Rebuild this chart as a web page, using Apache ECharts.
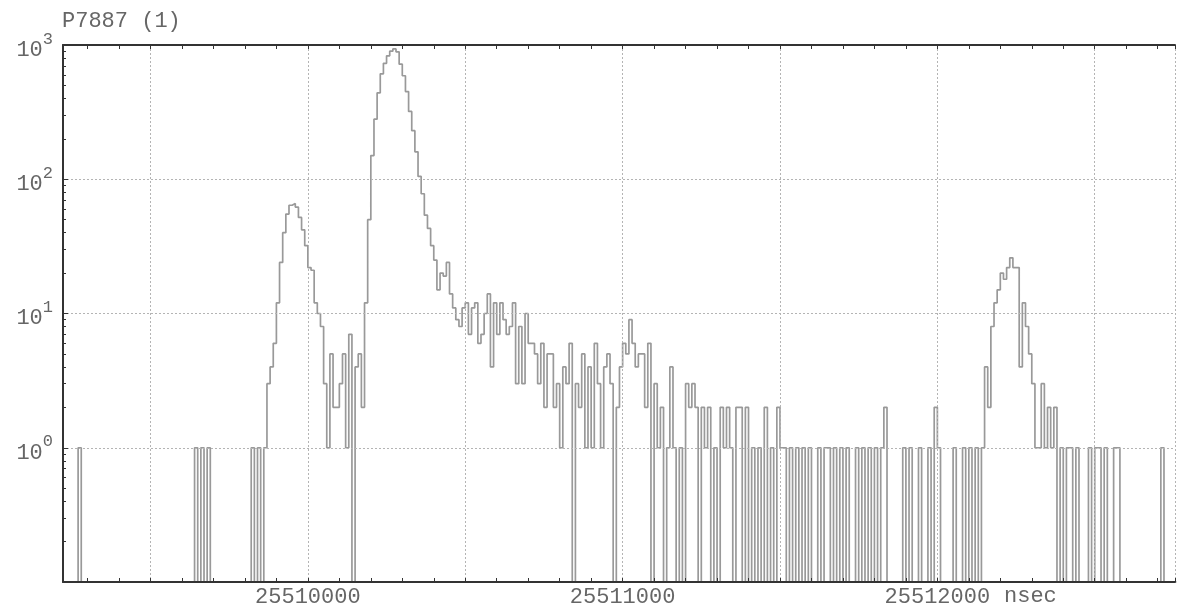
<!DOCTYPE html>
<html>
<head>
<meta charset="utf-8">
<title>P7887 (1)</title>
<script src="https://cdn.jsdelivr.net/npm/echarts@6.0.0/dist/echarts.min.js"></script>
<style>
  html, body {margin: 0; padding: 0; background: #fff;}
  #chart {width: 1178px; height: 608px;}
</style>
</head>
<body>
<div id="chart"></div>
<script>
// histogram of arrival times (nsec), 10 ns bins, log counts
const xMin = 25509222
const xMax = 25512755
const binStart = 25509220
const binWidth = 10

const xLabelTicks = [25510000, 25511000, 25512000]
const yMinorTicks = [0.2, 0.3, 0.4, 0.5, 0.6, 0.7, 0.8, 0.9,
    2, 3, 4, 5, 6, 7, 8, 9,
    20, 30, 40, 50, 60, 70, 80, 90,
    200, 300, 400, 500, 600, 700, 800, 900]

// first small peak
const peakAStart = 25509870
const peakA = [3, 4, 6, 12, 24, 40, 55, 64, 66, 62,
    52, 42, 32, 22, 21, 12, 10, 8, 3, 1,
    5, 2, 2, 3, 5, 1, 7, 0]

// main peak and its tail
const peakBStart = 25510150
const peakB = [4, 5, 2, 12, 50, 150, 280, 440, 610, 730,
    830, 900, 935, 890, 720, 590, 450, 320, 230, 160,
    105, 78, 54, 43, 32, 25, 15, 20, 19, 24,
    14, 11, 9, 8, 11, 12, 7, 11, 12, 6,
    7, 10, 14, 4, 12, 7, 12, 9, 7, 8,
    12, 3, 8, 3, 10, 6, 6, 5, 3, 6,
    2, 5, 5, 2, 3, 1, 4, 3, 6, 0,
    3, 2, 5, 1, 4, 1, 6, 3, 1, 4,
    5, 3, 0, 2, 4, 6, 5, 9, 6, 4,
    5, 5, 2, 6, 0, 3, 1, 2, 0, 1,
    4, 1, 0, 1, 0, 3, 2, 3, 2, 0,
    2, 1, 2, 0, 1, 0]

// third peak
const peakCStart = 25512150
const peakC = [4, 2, 8, 12, 15, 20, 18, 22, 26, 22,
    22, 4, 12, 8, 5, 3, 1, 1, 3, 1,
    2, 1, 2, 0]

// isolated bins in the sparse parts (bin start times)
const singleHits = [25509270, 25509640, 25509660, 25509680, 25509820, 25509840, 25509860,
    25511320, 25511340, 25511410, 25511430, 25511470, 25511500, 25511510, 25511530,
    25511550, 25511570, 25511590, 25511620, 25511640, 25511650, 25511670, 25511690,
    25511710, 25511740, 25511760, 25511780, 25511800, 25511820,
    25511890, 25511910, 25511940, 25511970, 25512000, 25512050, 25512080, 25512100,
    25512120, 25512140, 25512390, 25512410, 25512420, 25512440, 25512480, 25512500,
    25512510, 25512530, 25512560, 25512570, 25512710]
const doubleHits = [25511310, 25511330, 25511360, 25511370, 25511390, 25511450, 25511490, 25511830, 25511990]

const nBins = Math.ceil((xMax - binStart) / binWidth)
const counts = new Array(nBins).fill(0)
const put = (t, c) => { counts[Math.round((t - binStart) / binWidth)] = c }
peakA.forEach((c, i) => put(peakAStart + i * binWidth, c))
peakB.forEach((c, i) => put(peakBStart + i * binWidth, c))
peakC.forEach((c, i) => put(peakCStart + i * binWidth, c))
singleHits.forEach(t => put(t, 1))
doubleHits.forEach(t => put(t, 2))

// empty bins sit on the floor of the log axis
const floor = 0.1
const histData = counts.map((c, i) => [binStart + i * binWidth, c > 0 ? c : floor])
histData.push([binStart + nBins * binWidth, histData[histData.length - 1][1]])

const mono = '"Liberation Mono", "DejaVu Sans Mono", monospace'
const textColor = '#666'
const axisColor = '#333'
const gridStyle = {color: '#b4b4b4', type: [2, 2], width: 1}

const chart = echarts.init(document.getElementById('chart'))
chart.setOption({
    animation: false,
    backgroundColor: '#fff',
    title: {
        text: 'P7887 (1)', left: 57, top: 5,
        textStyle: {fontFamily: mono, fontSize: 22, fontWeight: 'normal', color: textColor}
    },
    grid: {left: 63, right: 2, top: 45, bottom: 24},
    xAxis: [{
        type: 'value', position: 'bottom', min: xMin, max: xMax, splitNumber: 7, z: 5,
        axisLine: {lineStyle: {color: axisColor, width: 2}},
        axisTick: {inside: true, length: 4, lineStyle: {color: axisColor}},
        minorTick: {show: true, splitNumber: 5, length: 4, lineStyle: {color: axisColor}},
        splitLine: {show: true, lineStyle: gridStyle},
        axisLabel: {
            margin: 4, fontFamily: mono, fontSize: 22, color: textColor,
            formatter: v => xLabelTicks.includes(v) ? String(v) : ''
        }
    }, {
        type: 'value', position: 'top', min: xMin, max: xMax, splitNumber: 7, z: 5,
        axisLine: {lineStyle: {color: axisColor, width: 2}},
        axisTick: {inside: true, length: 4, lineStyle: {color: axisColor}},
        minorTick: {show: true, splitNumber: 5, length: 4, lineStyle: {color: axisColor}},
        splitLine: {show: false},
        axisLabel: {show: false}
    }],
    yAxis: [{
        type: 'log', logBase: 10, min: 0.1, max: 1000, position: 'left', z: 5,
        axisLine: {show: true, lineStyle: {color: axisColor, width: 2}},
        axisTick: {show: true, inside: true, length: 5, lineStyle: {color: axisColor}},
        splitLine: {show: true, lineStyle: gridStyle},
        axisLabel: {
            margin: 10,
            formatter: v => {
                const e = Math.round(Math.log10(v))
                return e < 0 ? '' : '{b|10}{s|' + e + '}'
            },
            rich: {
                b: {fontFamily: mono, fontSize: 22, color: textColor, padding: [10, 0, 0, 0]},
                s: {fontFamily: mono, fontSize: 17, color: textColor, padding: [0, 0, 12, 0]}
            }
        }
    }, {
        type: 'log', logBase: 10, min: 0.1, max: 1000, position: 'left', z: 5,
        axisLine: {show: false},
        axisTick: {show: true, inside: true, length: 3, customValues: yMinorTicks, lineStyle: {color: axisColor}},
        splitLine: {show: false},
        axisLabel: {show: false}
    }],
    graphic: [{
        type: 'text', left: 1004, top: 585,
        style: {text: 'nsec', fontFamily: mono, fontSize: 22, fill: textColor}
    }],
    series: [{
        type: 'line', step: 'end', xAxisIndex: 0, yAxisIndex: 0,
        data: histData, showSymbol: false, symbol: 'none',
        lineStyle: {color: '#999999', width: 1.7}
    }]
})
</script>
</body>
</html>
